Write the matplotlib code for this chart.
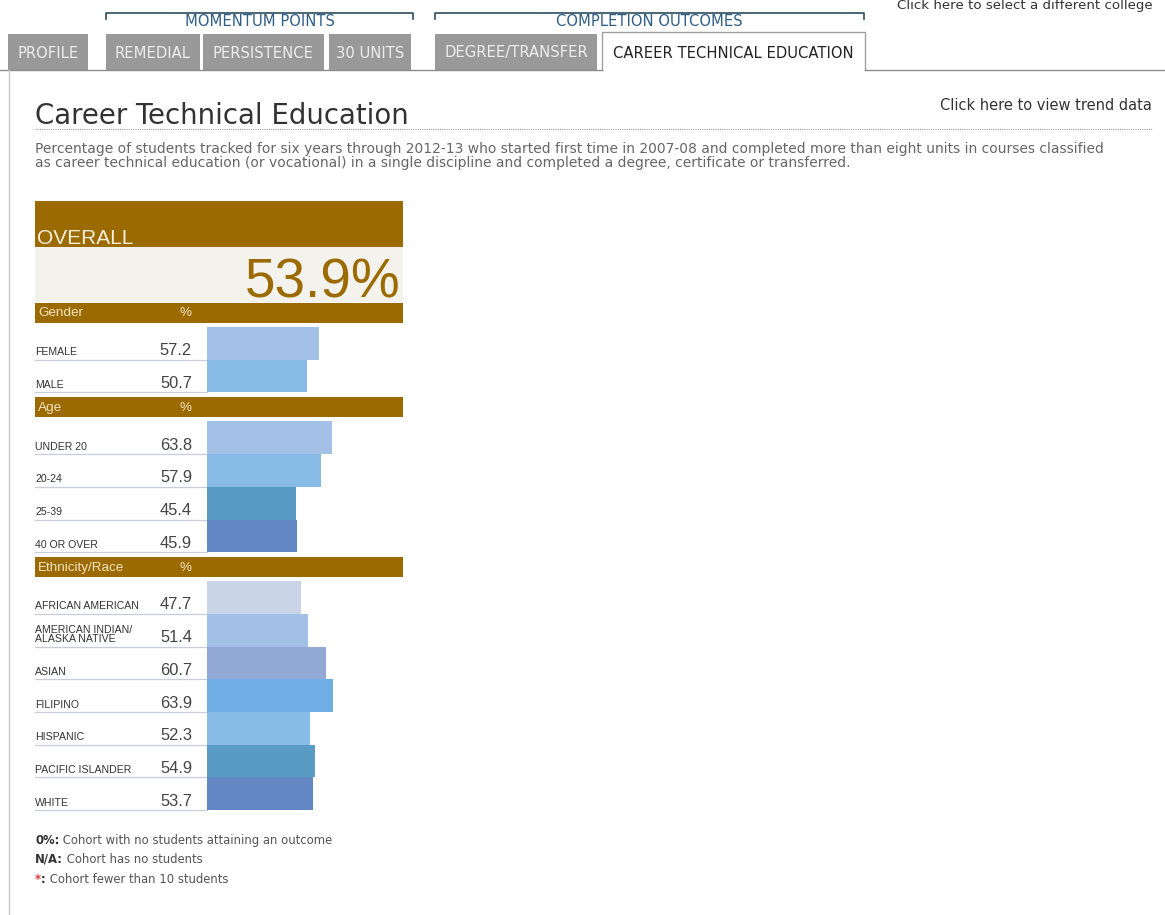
import matplotlib
matplotlib.use("Agg")
import matplotlib.pyplot as plt
from matplotlib.patches import Rectangle

W, H = 1165, 915

# ── Data ──────────────────────────────────────────────────────────────────────
overall_pct = 53.9

gender_labels = ["FEMALE", "MALE"]
gender_values = [57.2, 50.7]

age_labels = ["UNDER 20", "20-24", "25-39", "40 OR OVER"]
age_values = [63.8, 57.9, 45.4, 45.9]

eth_labels = ["AFRICAN AMERICAN", "AMERICAN INDIAN/\nALASKA NATIVE", "ASIAN",
              "FILIPINO", "HISPANIC", "PACIFIC ISLANDER", "WHITE"]
eth_values = [47.7, 51.4, 60.7, 63.9, 52.3, 54.9, 53.7]

tab_names = ["PROFILE", "REMEDIAL", "PERSISTENCE", "30 UNITS",
             "DEGREE/TRANSFER", "CAREER TECHNICAL EDUCATION"]
group_names = ["MOMENTUM POINTS", "COMPLETION OUTCOMES"]

title = "Career Technical Education"
desc_lines = [
    "Percentage of students tracked for six years through 2012-13 who started first time in 2007-08 "
    "and completed more than eight units in courses classified",
    "as career technical education (or vocational) in a single discipline and completed a degree, "
    "certificate or transferred.",
]

# ── Styles ────────────────────────────────────────────────────────────────────
BROWN = "#9b6a00"
PANEL = "#f4f2ed"
HEAD_TXT = "#f3e4c4"
TAB_GRAY = "#999999"
SEP = "#c8cdd8"
gender_colors = ["#a3c1e6", "#88bbe6"]
age_colors = ["#a3c1e6", "#88bbe6", "#5a9bc5", "#6386c5"]
eth_colors = ["#c9d5e6", "#a2c0e6", "#92a9d8", "#71aee6", "#88bbe6", "#5a9bc5", "#6386c5"]

SANS = ["DejaVu Sans"]
ARIAL = ["Liberation Sans", "DejaVu Sans"]

fig = plt.figure(figsize=(W / 100, H / 100), dpi=100)
fig.patch.set_facecolor("white")
ax = fig.add_axes([0, 0, 1, 1])
ax.set_xlim(0, W)
ax.set_ylim(H, 0)
ax.axis("off")

# bar axes: x in percent, y in page pixels
BAR_X0, BAR_PX_PER_PCT = 207, 1.965
bx = fig.add_axes([BAR_X0 / W, 0, 100 * BAR_PX_PER_PCT / W, 1])
bx.set_xlim(0, 100)
bx.set_ylim(H, 0)
bx.axis("off")

# ── Top navigation ───────────────────────────────────────────────────────────
top_right = "Click here to select a different college"
ax.text(897, 9.5, top_right, fontsize=9.6, family=SANS, color="#333", va="baseline")

brackets = [(106, 413), (435, 864)]
for (x0, x1), name in zip(brackets, group_names):
    ax.plot([x0, x0, x1, x1], [19, 13, 13, 19], color="#2b4b5e", lw=1.2)
    ax.text((x0 + x1) / 2, 22, name, ha="center", va="center",
            fontsize=10.6, family=SANS, color="#2e5d86")

tab_spans = [(8, 88), (106, 200), (203, 324), (329, 411), (435, 597), (602, 865)]
for i, ((x0, x1), name) in enumerate(zip(tab_spans, tab_names)):
    if i == len(tab_names) - 1:
        ax.plot([x0, x0, x1, x1], [69.5, 32, 32, 69.5], color="#a0a0a0", lw=1)
        ax.text((x0 + x1) / 2, 53, name, ha="center", va="center",
                fontsize=10.6, family=SANS, color="#222")
    else:
        ax.add_patch(Rectangle((x0, 34), x1 - x0, 35.5, facecolor=TAB_GRAY, edgecolor="none"))
        ax.text((x0 + x1) / 2, 53, name, ha="center", va="center",
                fontsize=10.6, family=SANS, color="#eeeeee")
ax.plot([0, 602], [69.5, 69.5], color="#8c8c8c", lw=1)
ax.plot([865, W], [69.5, 69.5], color="#8c8c8c", lw=1)
ax.plot([8.5, 8.5], [69.5, H], color="#c8c8c8", lw=1)

# ── Title + description ──────────────────────────────────────────────────────
ax.text(35, 124, title, fontsize=19.9, family=SANS, color="#333", va="baseline")
ax.text(1152, 110, "Click here to view trend data", fontsize=10.5, family=SANS,
        color="#333", va="baseline", ha="right")
ax.plot([35, 1152], [129, 129], color="#999", lw=0.8, linestyle=(0, (1, 1)))
for k, line in enumerate(desc_lines):
    ax.text(35, 153.5 + 14 * k, line, fontsize=10.0, family=SANS, color="#666", va="baseline")

# ── Overall box ───────────────────────────────────────────────────────────────
ax.add_patch(Rectangle((35, 201), 368, 46, facecolor=BROWN, edgecolor="none"))
ax.add_patch(Rectangle((35, 247), 368, 55, facecolor=PANEL, edgecolor="none"))
ax.text(37, 244, "OVERALL", fontsize=15, family=ARIAL, color="#f7efdc", va="baseline")
ax.text(401, 297, f"{overall_pct:.1f}%", fontsize=39.5, family=ARIAL, color=BROWN,
        ha="right", va="baseline")

# ── Breakdown sections ───────────────────────────────────────────────────────
sections = [
    ("Gender", gender_labels, gender_values, gender_colors),
    ("Age", age_labels, age_values, age_colors),
    ("Ethnicity/Race", eth_labels, eth_values, eth_colors),
]
ROW_H = 32.7
y = 303
for name, labels, values, colors in sections:
    ax.add_patch(Rectangle((35, y), 368, 20, facecolor=BROWN, edgecolor="none"))
    ax.text(38, y + 10.5, name, fontsize=9.7, family=ARIAL, color=HEAD_TXT, va="center")
    ax.text(185, y + 10.5, "%", fontsize=9.7, family=ARIAL, color=HEAD_TXT,
            va="center", ha="center")
    y += 24
    centers = [y + ROW_H * (i + 0.5) for i in range(len(values))]
    bx.barh(centers, values, height=ROW_H, color=colors, edgecolor="none")
    for yc, lab, v in zip(centers, labels, values):
        bottom = yc + ROW_H / 2
        ax.plot([35, BAR_X0], [bottom, bottom], color=SEP, lw=0.9)
        ax.text(35, bottom - 4.5, lab, fontsize=7.6, family=ARIAL, color="#333",
                va="baseline", linespacing=0.9)
        ax.text(192, bottom - 4.5, f"{v:.1f}", fontsize=11.9, family=ARIAL,
                color="#444", va="baseline", ha="right")
    y += ROW_H * len(values) + 5

# ── Footnotes ────────────────────────────────────────────────────────────────
fs = 8.4
t = ax.text(35, 844, "0%:", fontsize=fs, family=SANS, color="#333", weight="bold", va="baseline")
ax.annotate(" Cohort with no students attaining an outcome", xy=(1, 0), xycoords=t,
            va="bottom", fontsize=fs, family=SANS, color="#555")
t = ax.text(35, 863, "N/A:", fontsize=fs, family=SANS, color="#333", weight="bold", va="baseline")
ax.annotate(" Cohort has no students", xy=(1, 0), xycoords=t,
            va="bottom", fontsize=fs, family=SANS, color="#555")
t = ax.text(35, 883, "*", fontsize=fs, family=SANS, color="#e03a3a", weight="bold", va="baseline")
t2 = ax.annotate(":", xy=(1, 0), xycoords=t, va="bottom", fontsize=fs, family=SANS,
                 color="#333", weight="bold")
ax.annotate(" Cohort fewer than 10 students", xy=(1, 0), xycoords=t2,
            va="bottom", fontsize=fs, family=SANS, color="#555")

fig.savefig("out.png", dpi=100, facecolor="white")
